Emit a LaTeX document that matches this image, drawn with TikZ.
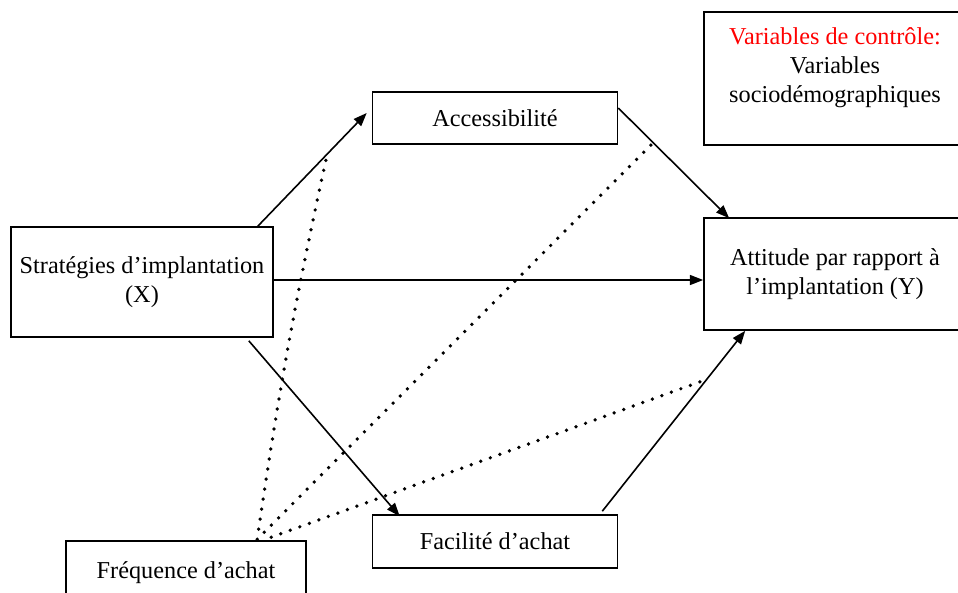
\documentclass[tikz,border=0pt]{standalone}
\usepackage{fontspec}
\setmainfont{Liberation Serif}
\usetikzlibrary{arrows.meta}
\begin{document}
\begin{tikzpicture}[x=0.75pt,y=-0.75pt,
  box/.style={draw,line width=1.2pt,inner sep=0pt,align=center,font=\fontsize{18.2}{21.8}\selectfont},
  arr/.style={line width=1.2pt,-{Triangle[length=10pt,width=7.5pt]}},
  dots/.style={line width=2.8pt,line cap=round,dash pattern=on 0pt off 7.6pt}]
\useasboundingbox (0,0) rectangle (958,593);
\node[box,minimum width=262*0.75pt,minimum height=110*0.75pt] (strat) at (142,282) {Stratégies d’implantation\\(X)};
\node[box,minimum width=245*0.75pt,minimum height=52*0.75pt] (acc) at (495,118) {Accessibilité};
\node[box,minimum width=245*0.75pt,minimum height=53*0.75pt] (fac) at (495,541.5) {Facilité d’achat};
\node[box,minimum width=240*0.75pt,minimum height=64*0.75pt] (freq) at (186,573) {Fréquence d’achat};
\node[box,minimum width=262*0.75pt,minimum height=112*0.75pt] (att) at (835,274) {Attitude par rapport à\\l’implantation (Y)};
\node[box,minimum width=262*0.75pt,minimum height=133*0.75pt] (ctrl) at (835,78.5) {};
\node[align=center,inner sep=0pt,font=\fontsize{18.2}{21.8}\selectfont] (ctrltext) at (835,67.5) {\textcolor{red}{Variables de contrôle:}\\Variables\\sociodémographiques};
% solid arrows
\draw[arr] ([shift={(-16,0)}]strat.north east) -- ([shift={(-5,-5)}]acc.west);
\draw[arr] ([shift={(0,-2)}]strat.east) -- ([shift={(0,6)}]att.west);
\draw[arr] ([shift={(-25,3)}]strat.south east) -- ([shift={(28,2)}]fac.north west);
\draw[arr] ([shift={(0,-10)}]acc.east) -- ([shift={(26,1)}]att.north west);
\draw[arr] ([shift={(-16,-3)}]fac.north east) -- ([shift={(42,0)}]att.south west);
% dotted lines
\draw[dots] ([shift={(192,-1)}]freq.north west) to[bend left=2] (327,155);
\draw[dots] ([shift={(199,-8)}]freq.north west) -- (658,138);
\draw[dots] ([shift={(206,-3)}]freq.north west) -- (705,380);
\end{tikzpicture}
\end{document}
